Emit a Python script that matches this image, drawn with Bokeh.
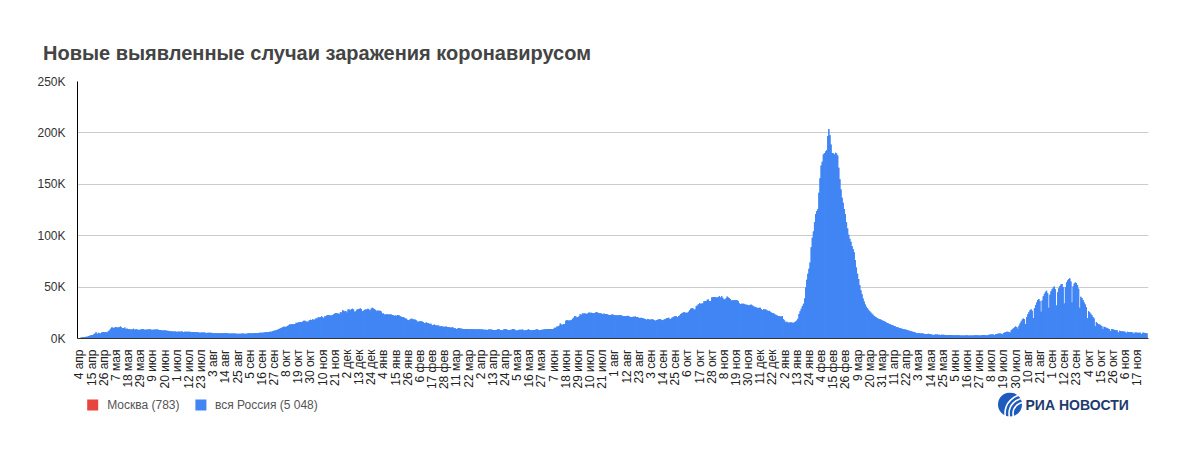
import math
from bokeh.plotting import figure
from bokeh.models import Range1d, FixedTicker, ColumnDataSource
from bokeh.layouts import column
from bokeh.embed import file_html
from bokeh.resources import INLINE
from bokeh.core.properties import value

TITLE = "Новые выявленные случаи заражения коронавирусом"
SERIES_NAMES = ["Москва (783)", "вся Россия (5 048)"]
LOGO_TEXT = "РИА НОВОСТИ"

# Daily new cases, thousands. First day: 4 Apr 2020, last day: 26 Nov 2022.
russia_2020 = [
    0.6, 0.7, 1.0, 1.2, 1.2, 1.5, 1.8, 1.7, 2.2, 2.6, 2.8, 3.4, 3.4, 4.1, 4.8, 6.1, 4.3, 5.6, 5.2, 4.8, 5.8, 6.0, 6.4, 6.2, 6.4, 5.8, 7.1,
    7.9, 9.6, 10.6, 10.6, 10.1, 10.6, 11.2, 10.7, 10.8, 11.0, 11.7, 10.9, 10.0, 10.0, 10.6, 9.2, 9.7, 8.9, 9.3, 8.8, 8.8, 8.9, 9.4, 8.6, 8.9, 8.9, 8.3, 8.4, 8.6, 9.0, 9.3,
    9.0, 8.5, 8.5, 8.8, 8.7, 8.9, 8.9, 8.6, 8.6, 8.4, 8.8, 8.8, 8.7, 8.8, 8.2, 8.2, 8.0, 7.8, 7.9, 8.0, 7.9, 7.6, 7.6, 7.2, 7.1, 7.1, 6.8, 6.8, 6.7, 6.7,
    6.6, 6.6, 6.8, 6.6, 6.7, 6.7, 6.4, 6.6, 6.5, 6.6, 6.6, 6.6, 6.6, 6.2, 6.4, 6.4, 6.4, 6.2, 6.1, 6.1, 5.8, 5.7, 5.8, 5.8, 5.8, 5.8, 5.6, 5.4, 5.5, 5.5, 5.5,
    5.5, 5.4, 5.4, 5.2, 5.2, 5.2, 5.2, 5.2, 5.2, 5.1, 5.1, 5.1, 5.1, 5.1, 5.1, 5.0, 4.9, 4.9, 4.8, 4.8, 4.9, 4.9, 4.9, 4.7, 4.7, 4.7, 4.7, 4.7, 4.9, 4.9, 4.7,
    4.7, 4.7, 4.9, 5.0, 5.2, 5.2, 5.2, 5.1, 5.1, 5.4, 5.4, 5.4, 5.4, 5.5, 5.5, 5.7, 5.7, 5.9, 6.1, 6.1, 6.2, 6.4, 6.5, 6.6, 6.6, 7.2, 7.5, 7.9, 8.1, 8.5,
    8.9, 9.4, 10.0, 10.5, 10.9, 11.6, 11.1, 11.5, 12.1, 12.7, 13.6, 13.6, 13.9, 13.8, 13.8, 14.2, 15.2, 15.1, 15.7, 15.7, 16.0, 15.7, 16.5, 17.3, 17.3, 16.6, 16.2, 16.6, 17.7, 18.3, 18.1,
    18.7, 18.3, 18.6, 19.8, 19.4, 20.6, 20.5, 20.6, 21.8, 20.9, 20.0, 21.6, 21.6, 22.7, 22.8, 22.6, 22.4, 22.4, 22.8, 23.6, 24.3, 24.8, 24.6, 24.3, 23.7, 25.5, 25.2, 27.5, 27.1, 26.3,
    26.7, 25.3, 28.1, 28.2, 27.4, 28.6, 29.0, 28.1, 26.1, 26.5, 27.9, 28.6, 28.6, 29.4, 28.6, 26.4, 27.0, 27.9, 28.2, 28.2, 29.0, 28.1, 27.2, 29.3, 29.9, 29.2, 28.6, 27.8, 26.5, 27.2, 26.9,
]
russia_2021 = [
    27.0, 26.3, 24.2, 24.2, 23.4, 23.3, 23.5, 23.5, 23.1, 23.6, 23.4, 22.9, 22.6, 22.1, 22.4, 22.2, 22.8, 22.6, 21.9, 21.2, 21.0, 20.7, 20.1, 19.5, 19.3, 18.0, 17.7, 18.4, 19.1, 19.3, 18.6,
    18.4, 18.2, 17.6, 16.4, 16.5, 16.7, 16.8, 16.6, 16.1, 14.9, 15.4, 15.5, 15.0, 14.8, 14.0, 14.4, 13.0, 13.1, 13.5, 12.9, 12.7, 12.7, 12.7, 11.7, 11.8, 11.8, 11.5, 11.5,
    11.4, 11.7, 11.1, 11.0, 10.9, 10.5, 11.0, 10.6, 10.0, 9.9, 9.3, 9.8, 9.9, 10.0, 9.8, 9.6, 9.3, 9.1, 9.3, 9.3, 9.3, 9.3, 9.0, 9.1, 9.3, 9.1, 9.1, 9.1, 8.9, 8.7, 8.9,
    9.0, 8.8, 8.9, 8.8, 8.6, 8.5, 8.4, 8.3, 8.8, 8.8, 8.7, 8.7, 8.3, 8.2, 8.2, 8.3, 8.8, 9.0, 8.7, 8.3, 8.1, 8.1, 8.9, 9.3, 8.9, 8.5, 8.0, 8.3, 8.4, 8.4,
    9.3, 9.3, 8.6, 7.8, 7.7, 8.3, 8.4, 8.4, 8.4, 8.8, 8.1, 7.9, 8.2, 8.3, 9.0, 8.6, 8.1, 8.0, 8.2, 8.2, 8.2, 8.7, 8.9, 8.6, 8.0, 8.1, 8.4, 8.6, 8.7, 9.0, 9.1,
    9.3, 9.2, 9.2, 9.3, 9.3, 9.1, 9.6, 10.4, 10.4, 11.6, 11.7, 12.5, 14.7, 13.7, 13.4, 14.0, 14.2, 17.3, 17.9, 17.6, 17.4, 17.6, 18.0, 19.1, 20.2, 21.6, 21.7, 20.5, 21.0, 21.7,
    23.5, 23.2, 24.4, 24.4, 24.4, 24.4, 23.9, 24.6, 25.2, 25.1, 25.1, 24.7, 24.5, 24.8, 25.3, 25.7, 25.1, 24.7, 24.2, 24.6, 23.7, 24.0, 24.0, 23.8, 23.9, 23.3, 22.8, 22.8, 23.0, 23.3, 23.1,
    22.6, 22.6, 22.6, 22.4, 22.6, 22.8, 22.5, 22.1, 21.6, 21.6, 21.9, 21.9, 22.1, 21.6, 21.1, 20.6, 20.8, 21.1, 21.1, 21.4, 20.8, 20.8, 20.1, 19.9, 20.2, 19.9, 19.6, 19.3, 18.9, 18.3, 18.9,
    18.8, 18.2, 18.5, 18.8, 18.6, 17.9, 17.3, 17.9, 18.3, 18.4, 18.9, 18.6, 18.0, 17.8, 18.6, 19.0, 19.6, 19.9, 20.2, 19.3, 19.0, 20.2, 20.6, 21.4, 21.7, 21.7, 20.9, 22.0, 22.4, 23.9,
    24.5, 25.0, 25.8, 25.1, 25.1, 25.1, 26.0, 27.4, 29.0, 29.4, 29.4, 28.2, 28.2, 31.3, 32.2, 33.2, 34.3, 33.7, 34.1, 34.1, 36.3, 36.5, 36.4, 37.7, 37.9, 36.6, 36.6, 39.8, 40.1, 40.3, 40.3,
    39.8, 39.8, 40.4, 41.3, 40.0, 41.3, 39.6, 38.1, 38.0, 39.2, 40.8, 40.0, 39.3, 38.4, 36.9, 37.2, 37.1, 37.4, 37.2, 37.1, 36.6, 34.3, 33.6, 33.9, 33.9, 33.9, 33.2, 32.9, 32.9, 32.6,
    32.1, 32.8, 32.9, 32.1, 31.1, 30.8, 30.3, 29.9, 29.6, 29.9, 29.9, 28.5, 27.8, 28.5, 28.1, 28.1, 27.4, 26.8, 27.0, 25.9, 25.2, 24.7, 24.7, 23.5, 23.2, 22.6, 22.0, 21.8, 21.3, 21.5, 21.9,
]
russia_2022 = [
    18.8, 17.4, 15.8, 16.2, 15.6, 15.2, 15.9, 15.5, 15.4, 15.3, 15.8, 16.6, 17.5, 19.2, 23.8, 26.5, 28.9, 31.5, 33.9, 38.8, 49.5, 57.2, 63.1, 67.8, 74.0, 88.8, 98.0, 104.0, 113.1, 121.2, 124.1,
    125.8, 141.9, 155.8, 168.2, 172.0, 179.0, 180.4, 182.0, 183.1, 197.1, 203.9, 197.6, 188.8, 180.5, 180.3, 179.1, 180.7, 179.9, 178.0, 166.0, 155.0, 145.0, 137.0, 132.0, 126.0, 121.0, 113.0, 107.0,
    101.0, 97.0, 94.0, 90.0, 87.0, 84.0, 76.0, 69.0, 63.0, 58.0, 52.0, 47.0, 43.0, 39.0, 36.0, 33.0, 31.0, 29.5, 28.0, 26.5, 25.2, 24.0, 23.0, 22.0, 21.2, 20.5, 19.8, 19.3, 18.8, 18.4, 17.8,
    17.2, 16.7, 16.2, 15.6, 15.0, 14.5, 14.0, 13.6, 13.2, 12.8, 12.2, 11.8, 11.3, 10.9, 10.6, 10.2, 9.9, 9.6, 9.3, 9.0, 8.7, 8.4, 8.1, 7.8, 7.5, 7.2, 6.9, 6.6, 6.3, 6.0,
    5.3, 5.1, 5.2, 5.4, 4.9, 5.0, 4.9, 4.6, 4.3, 4.2, 4.3, 4.5, 4.3, 4.1, 3.9, 3.6, 3.5, 3.8, 3.9, 3.8, 3.7, 3.6, 3.5, 3.6, 3.7, 3.6, 3.5, 3.3, 3.3, 3.3, 3.4,
    3.4, 3.3, 3.2, 3.1, 3.1, 3.2, 3.3, 3.2, 3.1, 3.0, 3.0, 2.9, 3.0, 3.0, 3.1, 3.1, 3.0, 3.0, 2.9, 2.8, 2.9, 3.0, 3.1, 3.1, 3.1, 3.2, 2.9, 3.0, 3.1, 3.1,
    3.3, 3.3, 3.2, 2.9, 3.5, 3.7, 3.8, 3.9, 3.9, 3.8, 3.3, 4.2, 4.4, 4.6, 4.8, 4.9, 4.7, 4.1, 5.4, 5.8, 6.2, 6.5, 6.6, 6.3, 5.6, 8.0, 9.0, 10.0, 11.0, 11.6, 11.2,
    9.6, 12.5, 14.5, 16.5, 18.5, 19.5, 18.8, 14.0, 21.0, 23.5, 25.5, 27.5, 28.5, 27.0, 20.0, 29.5, 32.5, 35.0, 37.5, 38.5, 36.5, 26.0, 37.0, 41.0, 43.5, 45.5, 46.5, 44.0, 30.0, 42.5, 46.0,
    48.0, 49.5, 50.5, 48.0, 32.0, 45.0, 49.0, 51.0, 52.5, 53.0, 50.0, 34.0, 50.0, 54.5, 56.5, 58.0, 58.6, 55.5, 35.0, 50.5, 53.5, 54.5, 54.0, 52.0, 48.5, 30.0, 40.5, 39.5, 37.5, 35.0,
    33.0, 30.5, 20.0, 26.5, 25.5, 24.0, 22.5, 21.0, 19.5, 12.0, 16.0, 15.0, 14.0, 13.5, 13.0, 12.0, 9.0, 11.5, 11.0, 10.5, 10.0, 9.5, 9.0, 7.0, 9.2, 9.0, 8.6, 8.3, 8.0, 7.7, 5.8,
    7.6, 7.4, 7.1, 6.9, 6.7, 6.5, 5.1, 6.5, 6.4, 6.2, 6.1, 6.0, 5.9, 4.7, 5.9, 5.8, 5.7, 5.7, 5.6, 5.5, 4.4, 5.6, 5.5, 5.4, 5.2, 5.048,
]

moscow_2020 = [
    0.4, 0.4, 0.7, 0.7, 0.8, 1.0, 1.1, 1.1, 1.4, 1.4, 1.5, 1.8, 1.9, 2.3, 2.6, 3.6, 2.5, 3.0, 2.8, 2.1, 3.1, 3.1, 2.9, 3.1, 3.0, 2.2, 3.0,
    3.1, 5.4, 6.0, 5.9, 5.7, 5.9, 6.7, 5.8, 5.7, 5.8, 6.2, 5.4, 4.7, 4.5, 4.7, 3.4, 3.2, 3.2, 2.7, 2.6, 2.6, 2.3, 2.3, 2.1, 2.0, 2.1, 2.1, 1.8, 2.3, 2.3, 2.6,
    2.4, 1.9, 1.6, 1.5, 1.9, 2.0, 2.0, 1.6, 1.6, 1.2, 1.2, 1.2, 1.3, 1.1, 1.0, 1.0, 0.9, 1.0, 1.0, 1.0, 0.9, 0.9, 0.8, 0.8, 0.7, 0.7, 0.7, 0.7, 0.7, 0.7,
    0.7, 0.7, 0.7, 0.7, 0.7, 0.7, 0.6, 0.7, 0.6, 0.6, 0.7, 0.6, 0.6, 0.6, 0.6, 0.6, 0.6, 0.6, 0.6, 0.6, 0.6, 0.6, 0.7, 0.7, 0.7, 0.6, 0.6, 0.6, 0.6, 0.7, 0.7,
    0.7, 0.7, 0.7, 0.7, 0.7, 0.7, 0.7, 0.7, 0.7, 0.7, 0.7, 0.7, 0.6, 0.7, 0.7, 0.7, 0.7, 0.7, 0.7, 0.7, 0.7, 0.7, 0.7, 0.7, 0.7, 0.7, 0.7, 0.7, 0.7, 0.7, 0.7,
    0.6, 0.6, 0.7, 0.7, 0.7, 0.7, 0.7, 0.7, 0.7, 0.7, 0.8, 0.8, 0.8, 0.8, 0.8, 0.8, 1.0, 1.1, 1.1, 1.2, 1.3, 1.6, 1.6, 1.6, 2.1, 2.3, 2.4, 2.5, 2.6, 2.9,
    3.3, 3.5, 3.5, 3.9, 4.0, 4.0, 3.7, 4.0, 4.6, 5.0, 5.4, 5.3, 4.0, 4.1, 4.4, 4.8, 4.9, 5.0, 4.8, 4.6, 4.8, 4.5, 4.9, 5.2, 5.3, 4.7, 4.2, 4.3, 4.9, 5.3, 5.1,
    5.3, 4.6, 4.7, 5.3, 5.9, 6.0, 6.0, 5.8, 6.9, 5.9, 4.8, 5.8, 5.9, 6.4, 6.4, 5.9, 5.4, 5.2, 5.8, 6.1, 6.2, 6.4, 6.3, 5.5, 5.2, 5.7, 6.6, 7.1, 7.1, 6.2,
    6.2, 6.1, 7.8, 7.2, 7.8, 7.9, 8.2, 7.5, 5.9, 6.3, 6.7, 7.0, 6.6, 7.0, 6.4, 4.6, 5.0, 5.9, 6.6, 6.5, 6.4, 6.0, 5.4, 5.6, 6.4, 6.2, 6.5, 5.9, 5.0, 5.2, 5.0,
]
moscow_2021 = [
    5.6, 5.2, 4.5, 4.6, 4.4, 4.8, 4.0, 4.6, 4.1, 4.1, 4.1, 4.0, 3.6, 3.6, 3.5, 3.5, 3.7, 3.6, 3.0, 2.7, 2.3, 2.5, 2.2, 2.1, 2.0, 1.8, 1.7, 1.9, 2.0, 2.0, 2.0,
    1.9, 1.7, 1.4, 1.7, 1.8, 1.6, 1.9, 1.7, 1.5, 1.5, 1.6, 1.7, 1.7, 1.5, 1.2, 1.6, 1.5, 1.7, 1.6, 1.6, 1.5, 1.3, 1.5, 1.5, 1.5, 1.5, 1.4, 1.2,
    1.3, 1.5, 1.5, 1.6, 1.6, 1.6, 1.4, 1.3, 1.5, 1.5, 1.7, 1.8, 1.8, 1.6, 1.7, 1.5, 1.4, 1.3, 1.5, 1.6, 1.6, 1.6, 1.5, 1.6, 1.7, 1.7, 1.8, 1.8, 1.7, 1.6, 1.6,
    1.8, 1.9, 1.8, 1.8, 1.4, 1.6, 1.7, 1.6, 1.8, 1.9, 2.0, 1.8, 1.6, 1.7, 1.8, 1.9, 2.0, 2.2, 1.9, 1.9, 1.9, 1.8, 2.4, 2.9, 2.7, 2.4, 2.1, 2.5, 2.5, 2.6,
    2.6, 2.8, 2.3, 2.1, 1.7, 2.1, 2.1, 2.2, 2.3, 2.5, 2.4, 1.9, 2.4, 2.4, 2.4, 2.6, 2.2, 2.1, 2.2, 2.3, 2.4, 2.8, 3.0, 2.8, 2.4, 2.5, 2.8, 3.0, 3.1, 3.3, 3.4,
    3.4, 3.3, 3.2, 3.4, 3.5, 3.2, 3.5, 4.1, 4.1, 5.0, 5.3, 6.0, 7.6, 6.7, 6.6, 5.8, 6.0, 9.1, 9.1, 8.6, 8.6, 7.1, 7.9, 7.7, 8.3, 8.4, 7.1, 6.7, 6.4, 6.5,
    7.6, 7.0, 7.4, 7.0, 6.9, 5.7, 5.1, 5.3, 5.5, 5.4, 4.9, 4.3, 3.4, 3.4, 3.7, 4.0, 3.6, 3.1, 2.8, 2.5, 2.6, 2.9, 2.9, 2.8, 2.6, 2.3, 2.2, 2.2, 2.3, 2.6, 2.4,
    2.2, 2.0, 1.9, 1.9, 2.1, 2.0, 2.0, 1.9, 1.5, 1.4, 1.8, 1.7, 1.8, 1.7, 1.6, 1.5, 1.6, 1.7, 1.7, 1.7, 1.6, 1.5, 1.5, 1.5, 1.6, 1.5, 1.6, 1.6, 1.3, 1.3, 1.5,
    1.6, 1.5, 1.6, 1.6, 1.6, 1.5, 1.4, 1.4, 1.5, 1.6, 1.8, 1.8, 1.7, 1.6, 1.6, 1.9, 2.0, 2.2, 2.3, 2.3, 2.2, 2.8, 3.0, 3.3, 3.3, 3.2, 3.0, 3.6, 3.8, 4.0,
    4.5, 4.6, 4.8, 4.3, 4.0, 4.5, 5.2, 6.3, 6.7, 6.3, 5.3, 5.1, 6.0, 7.1, 7.0, 7.5, 6.9, 6.2, 6.9, 7.6, 8.6, 8.1, 8.4, 8.4, 7.1, 6.3, 6.3, 8.1, 8.0, 7.6, 6.9,
    6.0, 5.6, 6.2, 5.3, 4.4, 5.9, 5.4, 4.6, 4.2, 4.6, 4.6, 4.1, 4.0, 3.9, 3.5, 3.6, 3.5, 3.4, 3.4, 3.3, 3.2, 2.9, 2.6, 2.8, 2.8, 2.6, 2.6, 2.4, 2.3, 2.4,
    2.4, 2.5, 2.5, 2.4, 2.3, 2.1, 2.1, 2.2, 2.2, 2.2, 2.1, 2.1, 1.8, 1.9, 2.0, 2.1, 2.0, 1.9, 1.9, 1.6, 1.5, 1.6, 1.5, 1.6, 1.6, 1.5, 1.5, 1.5, 1.5, 1.5, 1.8,
]
moscow_2022 = [
    2.0, 1.8, 1.5, 1.6, 1.6, 1.5, 1.7, 1.6, 1.7, 1.7, 2.3, 2.6, 3.2, 3.5, 4.5, 5.0, 7.7, 8.5, 8.0, 11.2, 12.5, 15.8, 17.1, 14.7, 19.5, 19.4, 21.3, 25.2, 24.5, 24.7, 21.5,
    21.8, 22.6, 21.5, 19.2, 18.3, 14.2, 12.5, 13.8, 12.4, 12.7, 12.5, 11.5, 10.4, 9.2, 9.5, 9.3, 9.4, 8.7, 8.4, 7.4, 6.5, 5.9, 5.2, 5.5, 5.0, 4.7, 4.2, 4.0,
    3.8, 3.6, 3.3, 3.0, 2.8, 2.6, 2.5, 2.2, 2.1, 2.1, 2.0, 1.9, 1.9, 1.8, 1.9, 2.0, 1.9, 1.8, 1.8, 1.7, 1.6, 1.7, 1.6, 1.6, 1.5, 1.5, 1.4, 1.4, 1.4, 1.4, 1.3,
    1.3, 1.3, 1.2, 1.2, 1.2, 1.2, 1.2, 1.1, 1.1, 1.1, 1.0, 1.0, 1.0, 1.0, 1.0, 1.0, 0.9, 0.9, 0.9, 0.9, 0.9, 0.9, 0.8, 0.8, 0.8, 0.8, 0.8, 0.8, 0.7, 0.7,
    0.7, 0.7, 0.7, 0.8, 0.7, 0.7, 0.7, 0.6, 0.5, 0.5, 0.6, 0.6, 0.6, 0.5, 0.5, 0.4, 0.4, 0.5, 0.5, 0.5, 0.4, 0.4, 0.4, 0.4, 0.5, 0.5, 0.5, 0.4, 0.4, 0.4, 0.4,
    0.4, 0.4, 0.4, 0.4, 0.4, 0.4, 0.4, 0.4, 0.4, 0.4, 0.3, 0.3, 0.3, 0.3, 0.4, 0.4, 0.4, 0.4, 0.3, 0.3, 0.4, 0.4, 0.4, 0.4, 0.4, 0.4, 0.4, 0.4, 0.4, 0.4,
    0.5, 0.5, 0.5, 0.5, 0.6, 0.7, 0.7, 0.7, 0.7, 0.6, 0.7, 0.9, 1.0, 1.1, 1.1, 1.1, 1.0, 0.8, 1.3, 1.5, 1.7, 1.9, 2.0, 1.8, 1.2, 2.2, 2.5, 2.8, 3.1, 3.1, 2.8,
    1.8, 3.4, 3.7, 4.0, 4.5, 4.6, 4.0, 2.5, 5.0, 5.5, 5.8, 6.1, 6.0, 5.3, 3.6, 6.6, 7.3, 7.4, 7.6, 7.7, 7.0, 4.7, 8.0, 8.7, 8.8, 8.9, 8.9, 8.0, 5.8, 9.0, 9.6,
    9.8, 9.9, 9.6, 8.6, 6.0, 9.0, 9.6, 9.8, 9.8, 9.6, 8.4, 5.5, 8.2, 8.9, 8.8, 8.8, 8.4, 7.4, 5.0, 7.4, 7.6, 7.5, 7.1, 6.4, 5.6, 3.4, 5.0, 4.6, 4.1, 3.7,
    3.3, 3.0, 2.0, 2.8, 2.6, 2.4, 2.2, 2.0, 1.9, 1.2, 1.7, 1.6, 1.5, 1.4, 1.3, 1.2, 0.9, 1.2, 1.2, 1.1, 1.1, 1.0, 1.0, 0.7, 1.0, 1.0, 1.0, 0.9, 0.9, 0.9, 0.6,
    0.9, 0.9, 0.9, 0.8, 0.8, 0.8, 0.6, 0.9, 0.9, 0.8, 0.8, 0.8, 0.8, 0.6, 0.8, 0.8, 0.8, 0.8, 0.8, 0.8, 0.6, 0.8, 0.8, 0.8, 0.8, 0.783,
]

# x tick labels, one every 11 days starting from the first day
tick_labels = [
    "4 апр", "15 апр", "26 апр", "7 мая", "18 мая", "29 мая", "9 июн", "20 июн", "1 июл", "12 июл",
    "23 июл", "3 авг", "14 авг", "25 авг", "5 сен", "16 сен", "27 сен", "8 окт", "19 окт", "30 окт",
    "10 ноя", "21 ноя", "2 дек", "13 дек", "24 дек",
    "4 янв", "15 янв", "26 янв", "6 фев", "17 фев", "28 фев", "11 мар", "22 мар", "2 апр", "13 апр",
    "24 апр", "5 мая", "16 мая", "27 мая", "7 июн", "18 июн", "29 июн", "10 июл", "21 июл", "1 авг",
    "12 авг", "23 авг", "3 сен", "14 сен", "25 сен", "6 окт", "17 окт", "28 окт", "8 ноя", "19 ноя",
    "30 ноя", "11 дек", "22 дек",
    "2 янв", "13 янв", "24 янв", "4 фев", "15 фев", "26 фев", "9 мар", "20 мар", "31 мар", "11 апр",
    "22 апр", "3 мая", "14 мая", "25 мая", "5 июн", "16 июн", "27 июн", "8 июл", "19 июл", "30 июл",
    "10 авг", "21 авг", "1 сен", "12 сен", "23 сен", "4 окт", "15 окт", "26 окт", "6 ноя", "17 ноя",
]
tick_step_days = 11
y_ticks = [0, 50000, 100000, 150000, 200000, 250000]
y_tick_labels = ["0K", "50K", "100K", "150K", "200K", "250K"]

RED = "#e8453c"
BLUE = "#4285f4"
FONT = "Liberation Sans"

russia = [v * 1000 for v in russia_2020 + russia_2021 + russia_2022]
moscow = [v * 1000 for v in moscow_2020 + moscow_2021 + moscow_2022]
src_ru = ColumnDataSource(dict(x=list(range(len(russia))), y=russia, y0=[0] * len(russia)))
src_msk = ColumnDataSource(dict(x=list(range(len(moscow))), y=moscow))

W = 1200
H_MAIN, H_BOT = 392, 58
FL, FR, FT, FB = 77, 1148, 81, 338   # frame edges in page pixels

# ---------------- main chart ----------------
p = figure(width=W, height=H_MAIN, x_range=Range1d(-1.8, 967.2),
           y_range=Range1d(0, 250000), toolbar_location=None,
           output_backend="svg", min_border_left=FL, min_border_right=W - FR,
           min_border_top=FT, min_border_bottom=H_MAIN - FB)
p.outline_line_color = None
p.vbar(x="x", top="y", width=1.0, source=src_msk, fill_color=RED, line_color=None)
# solid envelope of the Russia bars so the Moscow bars behind do not bleed through seams
p.varea_step(x="x", y1="y0", y2="y", step_mode="center", source=src_ru, fill_color=BLUE)
p.vbar(x="x", top="y", width=1.0, source=src_ru, fill_color=BLUE, line_color=None)

tick_pos = [i * tick_step_days for i in range(len(tick_labels))]
p.xaxis.ticker = FixedTicker(ticks=tick_pos)
p.xaxis.major_label_overrides = {t: l for t, l in zip(tick_pos, tick_labels)}
p.xaxis.major_label_orientation = math.pi / 2
p.xaxis.major_tick_line_color = None
p.xaxis.minor_tick_line_color = None
p.xaxis.axis_line_color = "#333333"
p.xaxis.major_label_standoff = 5
p.xaxis.major_label_text_font = FONT
p.xaxis.major_label_text_font_size = "12px"
p.xaxis.major_label_text_color = "#222222"

p.yaxis.ticker = FixedTicker(ticks=y_ticks)
p.yaxis.major_label_overrides = {t: l for t, l in zip(y_ticks, y_tick_labels)}
p.yaxis.major_tick_line_color = None
p.yaxis.minor_tick_line_color = None
p.yaxis.axis_line_color = "#000000"
p.yaxis.major_label_standoff = 6
p.yaxis.major_label_text_font = FONT
p.yaxis.major_label_text_font_size = "12px"
p.yaxis.major_label_text_color = "#333333"

p.xgrid.visible = False
p.ygrid.grid_line_color = "#cccccc"

p.title.text = TITLE
p.title.align = "left"
p.title.offset = 42.5 - FL
p.title.standoff = 35
p.title.text_font = FONT
p.title.text_font_style = "bold"
p.title.text_font_size = "20px"
p.title.text_color = "#444444"

# ---------------- legend + logo row (page-pixel coordinates) ----------------
top = H_MAIN
fb = figure(width=W, height=H_BOT, x_range=Range1d(FL, FR),
            y_range=Range1d(top + H_BOT, top), toolbar_location=None,
            output_backend="svg", x_axis_location=None, y_axis_location=None,
            min_border=0)
fb.grid.visible = False
fb.outline_line_color = None

fb.rect(x=[92.2, 200.4], y=[404.5, 404.5], width=11, height=11,
        fill_color=[RED, BLUE], line_color=None)
fb.text(x=[106.7, 214.5], y=[404.5, 404.5], text=SERIES_NAMES,
        text_font=value(FONT), text_font_size="12px", text_color="#555555",
        text_baseline="middle", text_align="left")

cx, cy = 1009.5, 404.0
fb.circle(x=[cx], y=[cy], radius=12, fill_color="#1d5bbd", line_color=None)
fb.circle(x=[cx + 14] * 3, y=[cy + 9] * 3, radius=[11.0, 15.0, 19.0],
          fill_color=None, line_color="white", line_width=1.6)
fb.text(x=[1025], y=[404.5], text=[LOGO_TEXT], text_font=value(FONT),
        text_font_style="bold", text_font_size="14px", text_color="#1e3a6e",
        text_baseline="middle", text_align="left")

layout = column(p, fb)
open("out.html", "w").write(file_html(layout, INLINE))
